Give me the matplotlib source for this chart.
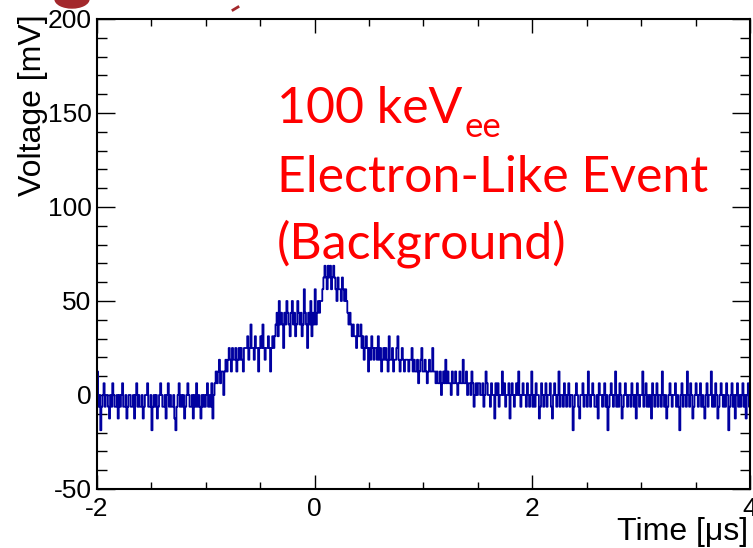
import numpy as np
import matplotlib
matplotlib.use("Agg")
import matplotlib.pyplot as plt
from matplotlib.ticker import MultipleLocator
from matplotlib.patches import Ellipse

# Digitizer samples in ADC counts (one count = 6.25 mV), 10 ns per sample,
# covering -2 us .. 4 us, split by region of the pulse.
pre_trigger = [
    2, -1, 0, -3, -1, 0, 1, -1, 0, 0, -1, -2, 0, -1, 1, 0, -1, -1, 0, -2,
    0, -1, 0, 1, -1, -1, 0, -2, -1, 0, 0, -1, -1, 0, -2, 0, 1, -1, 0, -1,
    -1, 0, -2, -1, 0, 0, 1, -1, -1, 0, -3, -1, 0, -1, 0, -2, -1, 0, 1, 0,
    -1, -1, 0, -2, 0, 1, -1, 0, -1, -1, 0, -2, -3, -1, 0, 1, -1, 0, -1, 0,
    -2, -1, 0, 1, 0, -1, -1, 0, -2, 0, -1, 1, -1, 0, -1, -2, 0, -1, 0, -1,
    0, 1, -1, 0, -1,
]
leading_edge = [
    1, -2, 0, 1,
    2, 1, 2, 3, 1, 2, 2, 0, 2, 3, 2,
    3, 4, 3, 2, 4, 3, 3, 4, 2, 3, 4, 3, 4, 3, 2, 4,
    4, 4, 5, 3, 4, 6, 4, 4, 3, 5, 4, 4, 2, 4, 5, 4, 6, 4, 3, 4, 4, 5, 4, 2, 4, 5, 4,
    5, 6, 7, 5, 8, 6, 7, 6, 4, 7, 6, 8, 7, 6, 5, 7, 8, 6, 7, 5, 6, 8, 7,
    6, 7, 5, 6, 9, 7, 6, 4, 7, 6, 8, 5, 7, 6, 9, 6, 7, 8, 7, 8,
    8, 9, 10,
]
peak = [
    11, 10, 9, 11, 10, 11, 9, 10, 11,
    10, 9, 8, 10, 9, 9, 8, 10, 9, 8, 9,
    8, 7, 6, 7, 6,
]
tail = [
    5, 6, 5, 5, 4, 6, 5, 5, 6,
    4, 5, 3, 4, 5, 4, 2, 4, 3, 5, 4, 3, 4, 4, 3, 5, 3, 4, 2, 3, 4,
    3, 4, 3, 2, 5, 3, 3, 4, 2, 3, 3, 4, 5, 3, 2, 3, 4, 3, 2, 3, 3,
    3, 2, 3, 3, 4, 2, 3, 2, 2, 3, 1, 2, 3, 4, 2, 2, 3, 2, 1, 2, 3, 2, 2, 4, 2,
    2, 1, 2, 1, 1, 2, 0, 1, 2, 1, 3, 1, 2, 1, 1, 0, 2, 1, 1, 2, 1, 0, 1, 2, 1, 1, 3, 1,
    1, 2, 0, 1, 1, 0, 2, 1, -1, 0, 1, 0, 1,
    1, 0, 0, 1, -1, 0, 2, 1, 0, 0, -1, 1, 0, 0, -2, 1, 0, 1, -1, 0, 0,
    2, 0, 1, -1, 0, 0, 1, -2, 0, 1, 0, -1, 0, 1, 0, 2, 0, -1, 0, 1, 0,
]
post_pulse = [
    0, -1, 1, 0, -1, 0, 2, -1, 0, -1, 1, 0, 0, -2, -1, 1, 0, -1, 0, 1,
    -1, 0, 0, 1, -1, -2, 0, 1, 0, -1, 0, 2, -1, 0, 0, -1, 1, 0, -1, 0,
    1, -1, 0, 0, -3, -1, 0, 1, 0, -1, -2, 0, 0, 1, -1, 0, 0, -1, 2, 0,
    -1, 0, 1, 0, -1, -1, 0, -2, 1, 0, 0, -1, 0, 1, -1, 0, -3, -1, 0, 1,
    0, -1, 0, 2, -1, 0, -1, 1, 0, -2, -1, 0, 1, 0, -1, 0, 0, -1, 1, 0,
    -1, 0, -2, 1, 0, -1, 0, 0, 2, -1, 0, 1, -1, 0, -1, 0, -2, 1, 0, -1,
    0, 1, -1, 0, 0, -1, 2, 0, -1, 0, -2, -1, 0, 1, 0, -1, 0, 0, 1, -1,
    0, -1, -3, 0, 1, -1, 0, 0, -1, 2, 0, -1, 1, 0, -2, -1, 0, 1, 0, -1,
    0, 1, -1, 0, -1, -2, 0, 1, -1, 0, 0, 2, -1, 0, -1, 1, 0, -2, -1, 0,
    1, 0, -1, 0, -1, 1, 0, -3, -1, 0, 1, -1, 0, -2, 0, 1, -1, 0, -1, 0,
    1, -1, 0, -2, 0, 1, -1,
]

mv_per_count = 6.25
t_start, t_stop = -2.0, 4.0

counts = np.array(pre_trigger + leading_edge + peak + tail + post_pulse, dtype=float)
n = len(counts)
dt = (t_stop - t_start) / n
time_us = t_start + (np.arange(n) + 0.5) * dt
voltage_mv = counts * mv_per_count

x_ticks = [-2, 0, 2, 4]
y_ticks = [-50, 0, 50, 100, 150, 200]

plt.rcParams["font.family"] = ["Liberation Sans", "DejaVu Sans"]
plt.rcParams["axes.unicode_minus"] = False

W, H = 753, 548
fig = plt.figure(figsize=(W / 100, H / 100), dpi=100)
ax = fig.add_axes([97 / W, 1 - 489 / H, 653 / W, 470 / H])

ax.plot(time_us, voltage_mv, drawstyle="steps-mid", color="#0000a0", lw=1.3)

ax.set_xlim(t_start, t_stop)
ax.set_ylim(-50, 200)
ax.set_xticks(x_ticks)
ax.set_yticks(y_ticks)
ax.xaxis.set_minor_locator(MultipleLocator(0.5))
ax.yaxis.set_minor_locator(MultipleLocator(10))

for side in ax.spines.values():
    side.set_linewidth(1.5)

ax.tick_params(axis="both", which="both", direction="in", top=True, right=True,
               width=1.0, labelsize=19)
ax.tick_params(axis="x", which="major", length=10, pad=6)
ax.tick_params(axis="x", which="minor", length=5)
ax.tick_params(axis="y", which="major", length=13, pad=4)
ax.tick_params(axis="y", which="minor", length=7)

fig.text(748 / W, 1 - 540 / H, "Time [\u03bcs]", ha="right", va="baseline",
         fontsize=23)
fig.text(48 / W, 1 - 14 / H, "Voltage [mV]", ha="right", va="bottom",
         rotation=90, fontsize=23, rotation_mode="anchor")

# Fragments of the heading above the frame
fig.patches.append(Ellipse((72 / W, 1 - (-1) / H), 34 / W, 18 / H,
                           transform=fig.transFigure, color="#a3282c", zorder=5))
fig.lines.append(plt.Line2D([233 / W, 238 / W], [1 - 10 / H, 1 - 7 / H],
                            transform=fig.transFigure, color="#a3282c", lw=2))

# Event annotation
red = "#ff0000"
afont = ["Lato", "DejaVu Sans"]
line1 = fig.text(277 / W, 1 - 123 / H, "100 keV", color=red, fontsize=36,
                 family=afont, va="baseline")
fig.canvas.draw()
ext = line1.get_window_extent()
fig.text(ext.x1 / W + 2 / W, 1 - 137 / H, "ee", color=red, fontsize=25,
         family=afont, va="baseline")
fig.text(277 / W, 1 - 192 / H, "Electron-Like Event", color=red, fontsize=36,
         family=afont, va="baseline")
fig.text(277 / W, 1 - 258 / H, "(Background)", color=red, fontsize=36,
         family=afont, va="baseline")

fig.savefig("out.png", dpi=100)
